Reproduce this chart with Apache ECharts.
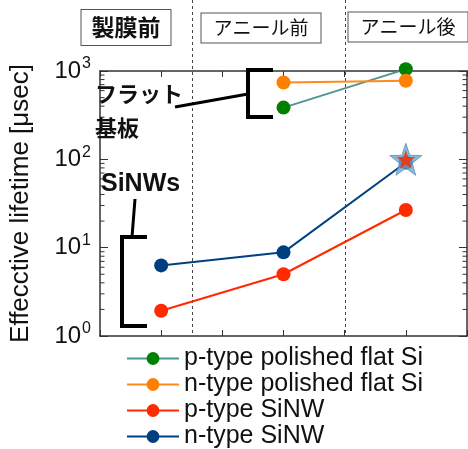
<!DOCTYPE html>
<html><head><meta charset="utf-8">
<script src="https://cdn.jsdelivr.net/npm/echarts@6/dist/echarts.min.js"></script>
<style>html,body{margin:0;padding:0;background:#fff}#c{width:468px;height:449px}</style>
</head><body><div id="c"></div>
<script>
// ---- data ----
const stages = ['製膜前', 'アニール前', 'アニール後'];
const stageX = [1, 2, 3];
const pFlat = [null, 385, 1050];
const nFlat = [null, 740, 775];
const pNW = [1.93, 5.0, 26.7];
const nNW = [6.3, 8.85, 92];
const starPoint = [3, 100];
const names = ['p-type polished flat Si', 'n-type polished flat Si', 'p-type SiNW', 'n-type SiNW'];
const dividers = [1.25, 2.5];
const yAxisName = 'Effecctive lifetime [μsec]';
const flatLabel = 'フラット\n基板';
const nwLabel = 'SiNWs';

const LAT = '"Liberation Sans", Arial, sans-serif';
const JP = '"Noto Sans CJK JP", sans-serif';

function pairs(vals) {
  return stageX.map((x, i) => [x, vals[i]]).filter(p => p[1] != null);
}
const starPath = 'path://M0,-10L2.35,-3.24L9.51,-3.09L3.8,1.24L5.88,8.09L0,4L-5.88,8.09L-3.8,1.24L-9.51,-3.09L-2.35,-3.24Z';

function lineSeries(name, vals, lineColor, dotColor) {
  return {
    type: 'line', name: name, data: pairs(vals), clip: false,
    symbol: 'circle', symbolSize: 14,
    lineStyle: { color: lineColor, width: 2 },
    itemStyle: { color: dotColor },
    emphasis: { disabled: true }, animation: false
  };
}

const axisLineStyle = { color: '#333', width: 1.5 };
const chart = echarts.init(document.getElementById('c'));
const option = {
  animation: false,
  grid: { left: 91, right: 1, top: 71, bottom: 113, containLabel: false },
  xAxis: [
    { type: 'value', min: 0.5, max: 3.5, interval: 0.5, position: 'bottom',
      axisLine: { lineStyle: axisLineStyle }, axisTick: { inside: true, length: 6, lineStyle: { color: '#333' } },
      axisLabel: { show: false }, splitLine: { show: false } },
    { type: 'value', min: 0.5, max: 3.5, interval: 0.5, position: 'top',
      axisLine: { lineStyle: axisLineStyle }, axisTick: { inside: true, length: 6, lineStyle: { color: '#333' } },
      axisLabel: { show: false }, splitLine: { show: false } }
  ],
  yAxis: [
    { type: 'log', logBase: 10, min: 1, max: 1000, position: 'left',
      name: yAxisName, nameLocation: 'middle', nameGap: 66, nameRotate: 90,
      nameTextStyle: { fontFamily: LAT, fontSize: 26, color: '#111' },
      axisLine: { lineStyle: axisLineStyle }, axisTick: { inside: true, length: 8, lineStyle: { color: '#333' } },
      splitLine: { show: false },
      axisLabel: {
        margin: 9,
        formatter: v => '{b|10}{s|' + Math.round(Math.log10(v)) + '}',
        rich: {
          b: { fontFamily: LAT, fontSize: 24, color: '#111' },
          s: { fontFamily: LAT, fontSize: 16, color: '#111', padding: [0, 0, 14, 1] }
        }
      } },
    { type: 'log', logBase: 10, min: 1, max: 1000, position: 'right',
      axisLine: { lineStyle: axisLineStyle }, axisTick: { inside: true, length: 8, lineStyle: { color: '#333' } },
      splitLine: { show: false }, axisLabel: { show: false } }
  ],
  legend: {
    orient: 'vertical', left: 121, top: 341, height: 300, itemGap: 1, itemWidth: 52, itemHeight: 16,
    data: names, selectedMode: false,
    textStyle: { fontFamily: LAT, fontSize: 25, color: '#111', lineHeight: 24, padding: [0, 0, 0, 0] }
  },
  series: [
    lineSeries(names[0], pFlat, '#4f9494', '#008000'),
    lineSeries(names[1], nFlat, '#ff8c1a', '#ff8000'),
    lineSeries(names[2], pNW, '#ff2a00', '#ff2a00'),
    lineSeries(names[3], nNW, '#004080', '#003f7f'),
    { type: 'scatter', name: 'starOuter', data: [starPoint], symbol: starPath, symbolSize: 32, clip: false,
      itemStyle: { color: '#6fa8d0', borderColor: '#5590b8', borderWidth: 1 }, z: 5, silent: true },
    { type: 'scatter', name: 'starInner', data: [starPoint], symbol: starPath, symbolSize: 19, clip: false,
      itemStyle: { color: '#ff2a00' }, z: 6, silent: true }
  ]
};
chart.setOption(option);

// ---- decorations computed through the axes ----
const g = [];
const px = v => chart.convertToPixel({ xAxisIndex: 0 }, v);
const py = v => chart.convertToPixel({ yAxisIndex: 0 }, v);
const yBottom = py(1);
const xLeft = px(0.5), xRight = px(3.5);
// log minor ticks
for (let d = 1; d < 1000; d *= 10) {
  for (let k = 2; k <= 9; k++) {
    const y = py(d * k);
    g.push({ type: 'line', shape: { x1: xLeft, y1: y, x2: xLeft + 4.5, y2: y }, style: { stroke: '#333', lineWidth: 1 }, silent: true });
    g.push({ type: 'line', shape: { x1: xRight - 4.5, y1: y, x2: xRight, y2: y }, style: { stroke: '#333', lineWidth: 1 }, silent: true });
  }
}
// dashed dividers
dividers.forEach(v => {
  const x = Math.round(px(v)) + 0.5;
  g.push({ type: 'line', shape: { x1: x, y1: 0, x2: x, y2: yBottom }, style: { stroke: '#444', lineWidth: 1, lineDash: [3, 3] }, silent: true, z: 1 });
});
// stage boxes
const boxes = [
  { cx: 126, cy: 27.5, font: 'bold 23px ' + JP, pad: [6, 10, 6, 10] },
  { cx: 261, cy: 28, font: 'normal 19px ' + JP, pad: [5, 12, 5, 12] },
  { cx: 408, cy: 27, font: 'normal 19px ' + JP, pad: [5, 12, 5, 12] }
];
stages.forEach((s, i) => {
  const b = boxes[i];
  g.push({ type: 'text', x: b.cx, y: b.cy, z: 10, silent: true,
    style: { text: s, font: b.font, fill: '#111', align: 'center', verticalAlign: 'middle',
      backgroundColor: '#fff', borderColor: '#555', borderWidth: 1, padding: b.pad } });
});
// brackets
g.push({ type: 'polyline', shape: { points: [[273, 70], [248, 70], [248, 117], [273, 117]] }, style: { stroke: '#000', lineWidth: 4, fill: null }, z: 10, silent: true });
g.push({ type: 'line', shape: { x1: 175, y1: 107, x2: 248, y2: 94 }, style: { stroke: '#000', lineWidth: 3 }, z: 10, silent: true });
g.push({ type: 'polyline', shape: { points: [[147, 237], [122, 237], [122, 326], [147, 326]] }, style: { stroke: '#000', lineWidth: 4, fill: null }, z: 10, silent: true });
g.push({ type: 'line', shape: { x1: 132, y1: 237, x2: 135, y2: 199 }, style: { stroke: '#000', lineWidth: 3 }, z: 10, silent: true });
g.push({ type: 'text', x: 95, y: 77, z: 10, silent: true,
  style: { text: flatLabel, font: 'bold 22px ' + JP, fill: '#111', lineHeight: 34 } });
g.push({ type: 'text', x: 101, y: 184, z: 10, silent: true,
  style: { text: nwLabel, font: 'bold 25px ' + LAT, fill: '#111', verticalAlign: 'middle' } });
chart.setOption({ graphic: g });
</script></body></html>
